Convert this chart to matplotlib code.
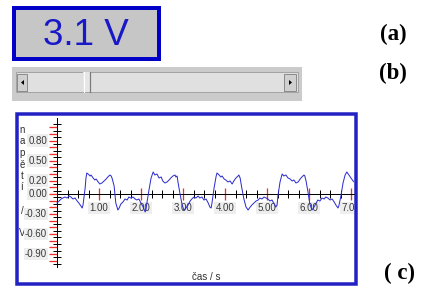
import numpy as np
import matplotlib
matplotlib.use("Agg")
import matplotlib.pyplot as plt
from matplotlib.patches import Rectangle, Polygon

PX = 0.72  # points per pixel at dpi 100

# ---- data ----
reading = "3.1 V"
panel_tags = ["(a)", "(b)", "( c)"]
ylabel_chars = list("napětí / V")
xlabel = "čas / s"

# time / s
t = [0.00, 0.05, 0.10, 0.14, 0.19, 0.24, 0.29, 0.33, 0.38, 0.43, 0.48, 0.52,
     0.57, 0.60, 0.62, 0.64, 0.67, 0.69, 0.71, 0.74, 0.79, 0.81, 0.86, 0.90,
     0.93, 0.98, 1.02, 1.07, 1.12, 1.17, 1.21, 1.26, 1.29, 1.31, 1.36, 1.38,
     1.40, 1.45, 1.48, 1.52, 1.57, 1.62, 1.67, 1.71, 1.76, 1.81, 1.86, 1.90,
     1.95, 2.00, 2.05, 2.10, 2.12, 2.14, 2.19, 2.24,
     2.29, 2.33, 2.38, 2.43, 2.48, 2.52, 2.57, 2.62, 2.67, 2.71, 2.76, 2.81,
     2.83, 2.86, 2.88, 2.93, 2.98, 3.02, 3.07, 3.12, 3.17, 3.21, 3.26, 3.31,
     3.36, 3.40, 3.45, 3.50, 3.55, 3.60, 3.64, 3.67, 3.69, 3.74, 3.79,
     3.81, 3.86, 3.90, 3.93, 3.98, 4.02, 4.07, 4.12, 4.17, 4.21, 4.26, 4.31,
     4.33, 4.36, 4.40, 4.45, 4.50, 4.55, 4.60, 4.64, 4.69, 4.74, 4.79, 4.83,
     4.88, 4.93, 4.98, 5.02, 5.07, 5.12, 5.17, 5.21, 5.24, 5.26, 5.31,
     5.36, 5.40, 5.45, 5.50, 5.55, 5.60, 5.64, 5.69, 5.74, 5.79, 5.83, 5.88,
     5.90, 5.93, 5.98, 6.02, 6.07, 6.12, 6.17, 6.21, 6.26, 6.31, 6.36, 6.40,
     6.45, 6.50, 6.55, 6.60, 6.64, 6.69, 6.71, 6.76, 6.81, 6.86, 6.90, 6.95,
     7.00, 7.05, 7.10]
# napětí / V
u = [-0.135, -0.105, -0.075, -0.06, -0.045, -0.06, -0.03, -0.045, -0.075, -0.06, -0.105, -0.135,
     -0.18, -0.21, -0.165, -0.06, 0.09, 0.24, 0.315, 0.30, 0.27, 0.285, 0.24, 0.21,
     0.225, 0.18, 0.15, 0.165, 0.195, 0.225, 0.255, 0.285, 0.27, 0.24, 0.12, 0.0,
     -0.135, -0.24, -0.21, -0.15, -0.12, -0.075, -0.09, -0.045, -0.06, -0.045, -0.075, -0.09,
     -0.075, -0.135, -0.195, -0.27, -0.225, -0.135, 0.06, 0.24,
     0.33, 0.285, 0.30, 0.24, 0.255, 0.195, 0.165, 0.18, 0.21, 0.24, 0.27, 0.285,
     0.255, 0.27, 0.18, 0.0, -0.165, -0.24, -0.21, -0.165, -0.105, -0.075, -0.045, -0.06,
     -0.03, -0.06, -0.045, -0.09, -0.075, -0.135, -0.195, -0.21, -0.135, 0.09, 0.27,
     0.315, 0.285, 0.255, 0.27, 0.225, 0.21, 0.18, 0.195, 0.15, 0.195, 0.24, 0.27,
     0.285, 0.24, 0.09, -0.075, -0.195, -0.24, -0.195, -0.165, -0.135, -0.105, -0.09, -0.06,
     -0.075, -0.045, -0.06, -0.075, -0.105, -0.09, -0.15, -0.195, -0.165, -0.03, 0.18,
     0.30, 0.27, 0.285, 0.24, 0.225, 0.195, 0.21, 0.165, 0.18, 0.225, 0.255, 0.285,
     0.27, 0.195, 0.015, -0.15, -0.24, -0.195, -0.135, -0.09, -0.105, -0.06, -0.075, -0.045,
     -0.06, -0.09, -0.075, -0.12, -0.165, -0.21, -0.18, -0.03, 0.165, 0.285, 0.33, 0.285,
     0.24, 0.195, 0.165]

x_major = [1, 2, 3, 4, 5, 6, 7]
x_labels = ["1.00", "2.00", "3.00", "4.00", "5.00", "6.00", "7.00"]
x_minor = np.arange(0.25, 7.01, 0.25)
y_major = np.round(np.arange(-1.0, 1.01, 0.1), 2)
y_minor = np.round(np.arange(-1.05, 1.06, 0.1), 2)
y_labeled = [0.8, 0.5, 0.2, 0.0, -0.3, -0.6, -0.9]

ui_font = "Liberation Sans"

fig = plt.figure(figsize=(4.21, 2.86), dpi=100)

# ---- background layer in pixel coords ----
bg = fig.add_axes([0, 0, 1, 1])
bg.set_xlim(0, 421)
bg.set_ylim(286, 0)
bg.axis("off")

# (a) display
bg.add_patch(Rectangle((14, 8), 145, 51, fc="#c6c6c6", ec="#0000c8", lw=4 * PX))
bg.text(86, 45, reading, ha="center", va="baseline", color="#1818c8",
        fontsize=26.5, family=ui_font)

# (b) scrollbar
bg.add_patch(Rectangle((12, 67), 290, 34, fc="#cbcbcb", ec="none"))
bg.add_patch(Rectangle((16, 72), 282, 20, fc="#e0e0e0", ec="#a4a4a4", lw=PX))
bg.add_patch(Rectangle((17, 74), 10, 17, fc="#d0d0d0", ec="#8c8c8c", lw=PX))
bg.add_patch(Polygon([[21, 82.5], [24, 80], [24, 85]], closed=True, fc="black", ec="none"))
bg.add_patch(Rectangle((284, 74), 12, 17, fc="#d0d0d0", ec="#8c8c8c", lw=PX))
bg.add_patch(Polygon([[292, 82.5], [289, 80], [289, 85]], closed=True, fc="black", ec="none"))
bg.add_patch(Rectangle((83, 72), 7, 20, fc="#e6e6e6", ec="none"))
bg.plot([89.5, 89.5], [72, 92], color="#7a7a7a", lw=1.2 * PX)
bg.plot([83.5, 83.5], [72, 92], color="#ffffff", lw=PX)

# (c) chart frame
bg.add_patch(Rectangle((16.5, 114), 339, 170, fc="white", ec="#2222c4", lw=3.5 * PX))

# y label stacked letter by letter
for i, ch in enumerate(ylabel_chars):
    bg.text(22, 130 + i * 11.5, ch, ha="center", va="center", fontsize=7,
            color="#303030", family=ui_font)
bg.text(206, 277, xlabel, ha="center", va="center", fontsize=7,
        color="#303030", family=ui_font)

# panel tags
for tag, (x, y) in zip(panel_tags, [(393, 34), (393, 73), (400, 273)]):
    bg.text(x, y, tag, ha="center", va="center", fontsize=16.5,
            fontweight="bold", family="Liberation Serif", color="black")

# ---- chart ----
ax = fig.add_axes([18 / 421, 4 / 286, 336 / 421, 166 / 286])
ax.set_facecolor("none")
ax.set_xlim((18 - 57) / 42, (354 - 57) / 42)
ax.set_ylim((194 - 282) / 66.7, (194 - 116) / 66.7)

for s in ["top", "right"]:
    ax.spines[s].set_visible(False)
ax.spines["left"].set_position(("data", 0))
ax.spines["bottom"].set_position(("data", 0))
ax.spines["left"].set_bounds(-1.09, 1.14)
ax.spines["bottom"].set_bounds(0, (354 - 57) / 42)
for s in ["left", "bottom"]:
    ax.spines[s].set_linewidth(PX)
    ax.spines[s].set_color("black")

ax.set_xticks(x_major)
ax.set_xticks(x_minor, minor=True)
ax.set_yticks(y_major)
ax.set_yticks(y_minor, minor=True)
ax.tick_params(which="major", color="#e8302c", width=1.3 * PX,
               labelbottom=False, labelleft=False)
ax.tick_params(which="minor", direction="inout", color="black", width=PX)
ax.tick_params(axis="x", which="major", direction="inout", length=12 * PX)
ax.tick_params(axis="x", which="minor", length=8 * PX)
ax.tick_params(axis="y", which="major", direction="out", length=8 * PX)
ax.tick_params(axis="y", which="minor", length=8 * PX)

lbl_box = dict(boxstyle="square,pad=0.12", fc="#eeeeee", ec="none")
for xv, lab in zip(x_major, x_labels):
    ax.annotate(lab, (xv, 0), xytext=(0, -14 * PX), textcoords="offset points",
                ha="center", va="center", fontsize=7, color="#383838",
                family=ui_font, bbox=lbl_box, clip_on=True, zorder=2)
for yv in y_labeled:
    ax.annotate(f"{yv:.2f}", (0, yv), xytext=(-10 * PX, 0), textcoords="offset points",
                ha="right", va="center", fontsize=7, color="#383838",
                family=ui_font, bbox=lbl_box, zorder=2)

ax.plot(t, u, color="#2c2cd0", lw=1.0 * PX, zorder=3)

fig.savefig("out.png", dpi=100)
